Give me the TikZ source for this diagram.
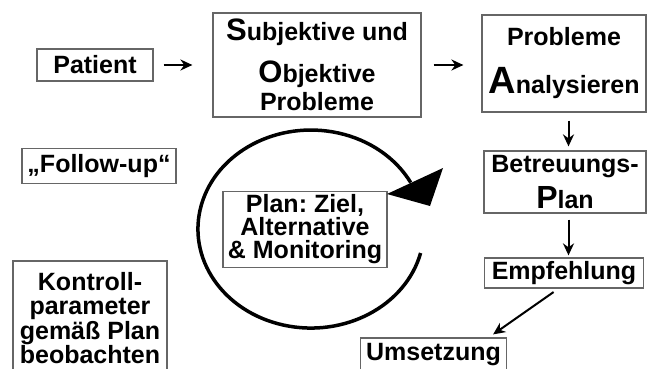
\documentclass[tikz,border=0pt]{standalone}
\usepackage{fontspec}
\setmainfont{Liberation Sans}
\usetikzlibrary{arrows.meta}
\newcommand\bigini[2]{{\fontsize{#1}{#1}\selectfont #2}}
\frenchspacing

\begin{document}
\begin{tikzpicture}[x=0.5pt,y=-0.5pt,
    box/.style={draw=black!60,line width=0.6pt,inner sep=0pt,align=center,
      font=\fontsize{12.5}{14}\selectfont\bfseries},
    arr/.style={-{Stealth[length=6pt,width=5.5pt]},line width=1pt}]
  \useasboundingbox (0,0) rectangle (648,369);
  \clip (0,0) rectangle (648,369);

  \node[box,minimum width=58pt,minimum height=16pt] (patient) at (95,65) {Patient};
  \node[box,minimum width=104pt,minimum height=52pt] (subj) at (317,65)
    {\bigini{15.5}{S}ubjektive und\\[7pt]\bigini{15.5}{O}bjektive\\Probleme};
  \node[box,minimum width=82pt,minimum height=48.5pt] (ana) at (564,63.5)
    {Probleme\\[10pt]\bigini{19}{A}nalysieren};
  \node[box,minimum width=81pt,minimum height=31pt] (betr) at (565,182)
    {Betreuungs-\\[4pt]\bigini{16}{P}lan};
  \node[box,minimum width=79.5pt,minimum height=15pt] (empf) at (564,273) {Empfehlung};
  \node[box,minimum width=73pt,minimum height=16.5pt] (umsetz) at (433.5,354.5) {Umsetzung};
  \node[box,minimum width=77pt,minimum height=17.5pt] (follow) at (99,166) {„Follow-up“};
  \node[box,minimum width=77pt,minimum height=57pt,font=\fontsize{12.5}{12.2}\selectfont\bfseries]
    (kontroll) at (90,318) {Kontroll-\\parameter\\gemäß Plan\\beobachten};
  \node[box,minimum width=82pt,minimum height=38pt,font=\fontsize{12.5}{11.5}\selectfont\bfseries]
    (plan) at (305,229.5) {Plan: Ziel,\\Alternative\\\& Monitoring};

  \draw[arr,shorten <=5pt,shorten >=10pt] (patient) -- (patient -| subj.west);
  \draw[arr,shorten <=6pt,shorten >=9pt] (subj) -- (subj -| ana.west);
  \draw[arr,shorten <=4pt,shorten >=2pt] ([xshift=2.25pt]ana.south) -- ([xshift=2.25pt]ana.south |- betr.north);
  \draw[arr,shorten <=3pt,shorten >=1pt] ([xshift=1.75pt]betr.south) -- ([xshift=1.75pt]betr.south |- empf.north);
  \draw[arr,shorten <=3pt] ([xshift=-2.75pt]empf.south) -- ([xshift=-7pt,yshift=1.5pt]umsetz.north east);

  \draw[line width=1.75pt] (420.6,253) arc[start angle=14,end angle=332,x radius=113,y radius=99];
  \fill (387,194) -- (443,168) -- (430,206) -- cycle;
\end{tikzpicture}
\end{document}
